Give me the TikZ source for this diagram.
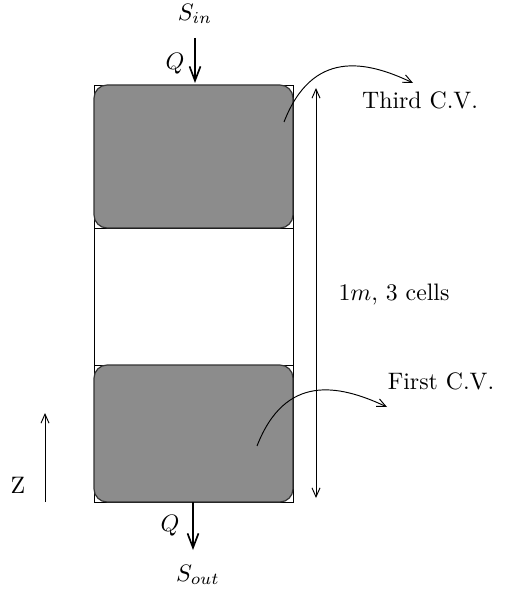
\documentclass[tikz,border=0pt]{standalone}
\usetikzlibrary{arrows.meta}
\begin{document}
\begin{tikzpicture}[x=0.42pt,y=-0.42pt,
  cell/.style={draw,line width=0.4pt,minimum width=83.58pt,inner sep=0pt,outer sep=0pt},
  cv/.style={draw=black!80,fill=black!45,line width=0.5pt,rounded corners=5.5pt,minimum width=83.58pt,inner sep=0pt,outer sep=0pt},
  flow/.style={line width=0.7pt,-{Straight Barb[length=6pt,width=4.6pt]}},
  thin arrow/.style={line width=0.4pt,-{Straight Barb[length=3.8pt,width=3.4pt]}},
  lbl/.style={inner sep=0pt}]
\useasboundingbox (0,0) rectangle (519,596);
% cells
\node[cell,minimum height=60.06pt] (cell3) at (193.5,156.5) {};
\node[cell,minimum height=57.54pt] (cell2) at (193.5,296.5) {};
\node[cell,minimum height=57.54pt] (cell1) at (193.5,433.5) {};
% control volumes
\node[cv,minimum height=60.06pt] (cv3) at (193.5,156.5) {};
\node[cv,minimum height=57.54pt] (cv1) at (193.5,433.5) {};
% inflow
\node[lbl] (sin) at (195,14) {$S_{in}$};
\node[lbl] (qin) at (175,64) {$Q$};
\coordinate (inA) at (195,38);
\coordinate (inB) at (195,83);
\draw[flow] (inA) -- (inB);
% outflow
\node[lbl] (qout) at (170,526) {$Q$};
\node[lbl] (sout) at (198,575) {$S_{out}$};
\coordinate (outA) at (193,502);
\coordinate (outB) at (193,550);
\draw[flow] (outA) -- (outB);
% height dimension
\coordinate (dimT) at (316,88);
\coordinate (dimB) at (316,498);
\draw[line width=0.4pt,{Straight Barb[length=3.8pt,width=3.4pt]}-{Straight Barb[length=3.8pt,width=3.4pt]}] (dimT) -- (dimB);
\node[lbl] (dimlbl) at (394,295) {$1m$, 3 cells};
% z axis
\coordinate (zA) at (45,502);
\coordinate (zB) at (45,413);
\draw[thin arrow] (zA) -- (zB);
\node[lbl] (z) at (18,485) {Z};
% labels
\node[lbl] (third) at (420,100) {Third C.V.};
\node[lbl] (first) at (441,381) {First C.V.};
\coordinate (c3s) at (284,122);
\coordinate (c3e) at (413,83);
\coordinate (c1s) at (257,446);
\coordinate (c1e) at (387,407);
\draw[thin arrow] (c3s) .. controls (312,50) and (365,60) .. (c3e);
\draw[thin arrow] (c1s) .. controls (285,374) and (338,384) .. (c1e);
\end{tikzpicture}
\end{document}
